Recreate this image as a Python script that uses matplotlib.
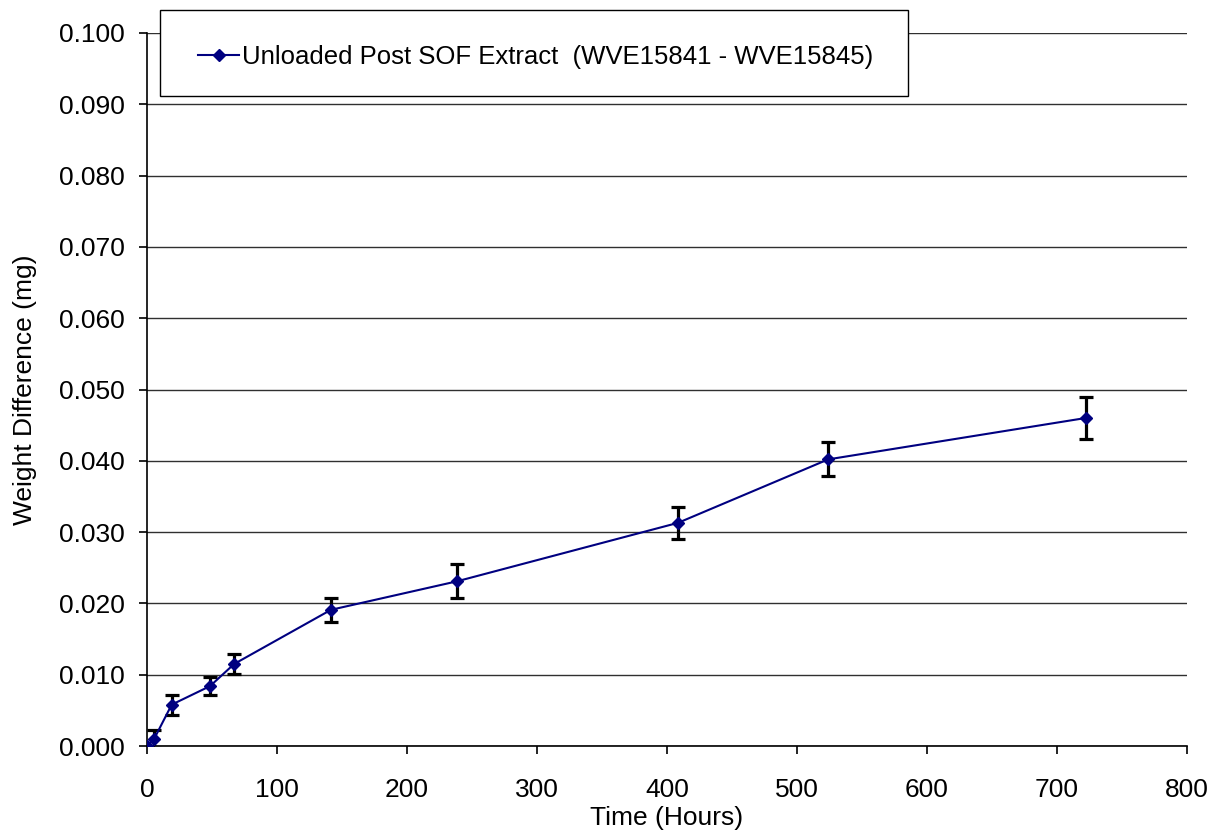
import matplotlib.pyplot as plt
from matplotlib.patches import Rectangle
from matplotlib.ticker import MultipleLocator, FormatStrFormatter

plt.rcParams['font.family'] = ['Liberation Sans', 'DejaVu Sans']

# data
time_hours = [0, 5.5, 19, 48.5, 67, 141.5, 238.5, 408.5, 524, 722]
weight_diff = [0.0, 0.0010, 0.0058, 0.0084, 0.0115, 0.0191, 0.0231, 0.0313, 0.0402, 0.0460]
weight_err = [0.0, 0.0013, 0.0014, 0.0013, 0.0014, 0.0017, 0.0024, 0.0022, 0.0024, 0.0030]
series_label = "Unloaded Post SOF Extract  (WVE15841 - WVE15845)"

W, H = 1220, 834
fig = plt.figure(figsize=(W / 100, H / 100), dpi=100)
ax = fig.add_axes([147 / W, 88 / H, 1040 / W, 713 / H])

# error bars first, then the series line on top
ax.errorbar(time_hours, weight_diff, yerr=weight_err, fmt='none',
            ecolor='black', elinewidth=2.3, capsize=5, capthick=2.3, zorder=3)
ax.plot(time_hours, weight_diff, color='#000080', lw=1.5, marker='D',
        markersize=6.5, label=series_label, zorder=4)

ax.set_xlim(0, 800)
ax.set_ylim(0, 0.1)
ax.xaxis.set_major_locator(MultipleLocator(100))
ax.yaxis.set_major_locator(MultipleLocator(0.01))
ax.yaxis.set_major_formatter(FormatStrFormatter('%.3f'))
ax.grid(axis='y', color='#303030', lw=1)
ax.set_axisbelow(True)

for side in ['top', 'right']:
    ax.spines[side].set_visible(False)
for side in ['left', 'bottom']:
    ax.spines[side].set_linewidth(1.2)

ax.tick_params(labelsize=19, length=6, width=1.2, direction='out')
ax.tick_params(axis='x', pad=17)
ax.tick_params(axis='y', pad=10)
ax.set_xlabel('Time (Hours)', fontsize=19, labelpad=3)
ax.set_ylabel('Weight Difference (mg)', fontsize=19, labelpad=16)

# legend box drawn as a figure rectangle, legend entry placed inside it
fig.patches.append(Rectangle((160 / W, 1 - 96 / H), 748 / W, 86 / H,
                             transform=fig.transFigure, facecolor='white',
                             edgecolor='black', lw=1, zorder=5))
leg = fig.legend(loc='center left', bbox_to_anchor=(198 / W, 1 - 57 / H),
                 fontsize=18.5, frameon=False, borderpad=0, borderaxespad=0,
                 handlelength=1.6, handletextpad=0.1)
leg.set_zorder(6)

fig.savefig('out.png', dpi=100)
